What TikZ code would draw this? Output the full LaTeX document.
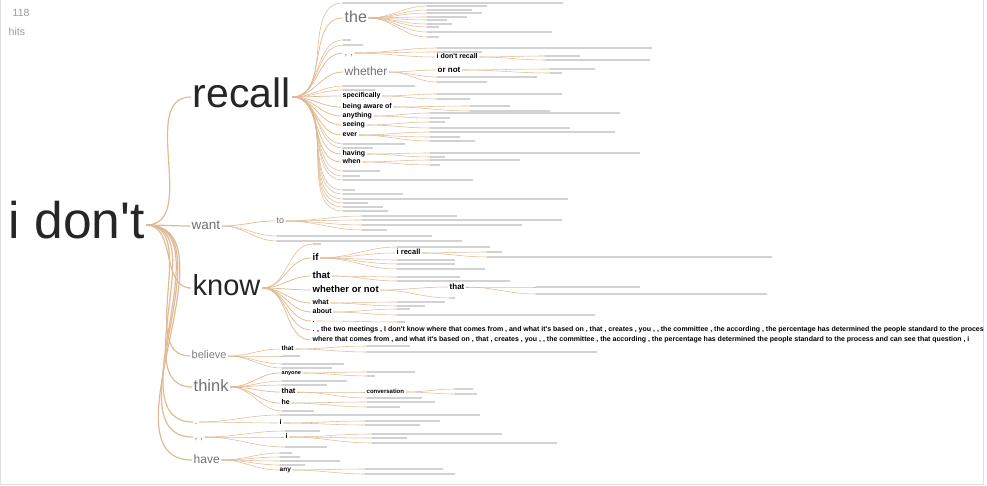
\documentclass[tikz,border=0pt]{standalone}
\usepackage{fontspec}
\setmainfont{Liberation Sans}[Ligatures=TeXOff]
\usepackage{xcolor}
\usepackage{tikz}

\definecolor{twigcol}{RGB}{224,186,148}
\definecolor{inkdark}{RGB}{38,38,38}
\definecolor{inkgrey}{RGB}{112,112,112}
\definecolor{gistcol}{RGB}{210,210,210}
\newcommand{\fsz}[1]{\fontsize{#1}{#1}\selectfont}

\tikzset{
  twig/.style={draw=twigcol, line width=0.55pt},
  stem/.style={draw=twigcol, line width=1.2pt},
  word/.style={anchor=west, inner sep=1.5pt, text=inkdark, font=\fsz{#1},
               text height={0.52*#1}, text depth=0pt},
  faint/.style={word=#1, text=inkgrey},
  tag/.style={word=#1, text=black, font=\bfseries\fsz{#1}},
  tag/.default=7,
  gist/.style={anchor=west, fill=gistcol, inner sep=0pt, minimum height=1.7pt, minimum width=#1},
}

\begin{document}
\begin{tikzpicture}[x=1pt,y=-1pt]
    \useasboundingbox (0,0) rectangle (987,486);
    \draw[gistcol!70, line width=0.8pt] (0.5,0) -- (0.5,484) -- (983.5,484) -- (983.5,0);

    % hit count
    \node[faint=10.5, text=black!40] (count) at (11,14) {118};
    \node[faint=10.5, text=black!40] (hits) at (7,33) {hits};

    % root and first level
    \node[word=51.5] (idont) at (7,225) {i don't};

    \node[word=41] (recall) at (191,97) {recall};
    \node[faint=13.5] (want) at (190,226) {want};
    \node[word=29] (know) at (191,288) {know};
    \node[faint=11, text=black!50] (believe) at (190,356) {believe};
    \node[faint=16.5] (think) at (192,387) {think};
    \node[faint=10] (dot) at (193,422) {.};
    \node[faint=10] (commas) at (193,437) {,\ ,};
    \node[faint=12] (have) at (192,460) {have};

    \foreach \c in {recall,want,know,believe,think,dot,commas,have}
        \draw[stem] (idont.east) to[out=0,in=180] (\c.west);

    % --- recall ---
    \node[faint=16] (the) at (343,18) {the};
    \node[faint=10] (rcommas) at (343,53) {,\ ,};
    \node[faint=12] (whether) at (343,72) {whether};
    \node[tag] (specif) at (341,96) {specifically};
    \node[tag] (aware) at (341,107) {being aware of};
    \node[tag] (anything) at (341,116) {anything};
    \node[tag] (seeing) at (341,125) {seeing};
    \node[tag] (ever) at (341,135) {ever};
    \node[tag] (having) at (341,154) {having};
    \node[tag] (when) at (341,162) {when};

    \foreach \c in {the,rcommas,whether,specif,aware,anything,seeing,ever,having,when}
        \draw[twig, line width=0.75pt] (recall.east) to[out=0,in=180] (\c.west);
    \foreach \y/\l [count=\i] in {3/220, 40/8, 45/20, 86/72, 90/32, 144/62, 148/30, 171/37,
            176/17, 180/130, 190/12, 194/60, 199/225, 203/25, 207/40, 211/45} {
        \node[gist=\l] (rg\i) at (343,\y) {};
        \draw[twig] (recall.east) to[out=0,in=180] (rg\i.west);
    }

    \foreach \y/\l [count=\i] in {6/60, 10/45, 13/55, 17/40, 20/20, 24/25, 27/12, 32/125, 37/12} {
        \node[gist=\l] (theg\i) at (427,\y) {};
        \draw[twig] (the.east) to[out=0,in=180] (theg\i.west);
    }

    \node[tag] (idr) at (435,57) {i don't recall};
    \draw[twig] (rcommas.east) to[out=0,in=180] (idr.west);
    \foreach \y/\l [count=\i] in {48/215, 52/45} {
        \node[gist=\l] (rcg\i) at (437,\y) {};
        \draw[twig] (rcommas.east) to[out=0,in=180] (rcg\i.west);
    }
    \foreach \y/\l [count=\i] in {56/35, 60/105} {
        \node[gist=\l] (idrg\i) at (545,\y) {};
        \draw[twig] (idr.east) to[out=0,in=180] (idrg\i.west);
    }

    \node[tag=8] (ornot) at (436,70) {or not};
    \draw[twig] (whether.east) to[out=0,in=180] (ornot.west);
    \foreach \y/\l [count=\i] in {77/100, 82/50} {
        \node[gist=\l] (wg\i) at (437,\y) {};
        \draw[twig] (whether.east) to[out=0,in=180] (wg\i.west);
    }
    \foreach \y/\l [count=\i] in {69/45, 73/12} {
        \node[gist=\l] (ong\i) at (550,\y) {};
        \draw[twig] (ornot.east) to[out=0,in=180] (ong\i.west);
    }

    \foreach \p/\x/\lst in {specif/437/{94/125,99/33}, aware/470/{106/40,111/80},
            anything/430/{113/190,118/20}, seeing/430/{122/15,128/140},
            ever/430/{132/185,137/30,141/45}, having/430/{153/210,157/15},
            when/430/{160/90,165/10}} {
        \foreach \y/\l [count=\i] in \lst {
            \node[gist=\l] (\p g\i) at (\x,\y) {};
            \draw[twig] (\p.east) to[out=0,in=180] (\p g\i.west);
        }
    }

    % --- want ---
    \node[faint=9] (to) at (275,221) {to};
    \draw[twig, line width=0.75pt] (want.east) to[out=0,in=180] (to.west);
    \foreach \y/\l [count=\i] in {236/155, 241/185} {
        \node[gist=\l] (wantg\i) at (277,\y) {};
        \draw[twig] (want.east) to[out=0,in=180] (wantg\i.west);
    }
    \foreach \y/\l [count=\i] in {216/95, 220/200, 225/160, 230/25} {
        \node[gist=\l] (tog\i) at (362,\y) {};
        \draw[twig] (to.east) to[out=0,in=180] (tog\i.west);
    }

    % --- know ---
    \node[tag=9.5] (if) at (311,258) {if};
    \node[tag=9.5] (kthat) at (311,276) {that};
    \node[tag=9.5] (wornot) at (311,290) {whether or not};
    \node[tag] (what) at (311,303) {what};
    \node[tag] (about) at (311,312) {about};
    \node[tag] (kdot) at (311,321) {.};
    \begin{scope}
        \clip (0,0) rectangle (983,486);
        \node[tag] (long1) at (311,330) {. , the two meetings , I don't know where that comes from , and what it's based on , that , creates , you , , the committee , the according , the percentage has determined the people standard to the process};
        \node[tag] (long2) at (311,340) {where that comes from , and what it's based on , that , creates , you , , the committee , the according , the percentage has determined the people standard to the process and can see that question , i};
    \end{scope}
    \foreach \c in {if,kthat,wornot,what,about,kdot,long1,long2}
        \draw[twig, line width=0.75pt] (know.east) to[out=0,in=180] (\c.west);
    \node[gist=8] (kg1) at (313,244) {};
    \draw[twig] (know.east) to[out=0,in=180] (kg1.west);

    \node[tag=7.5] (irecall) at (395,253) {i recall};
    \draw[twig] (if.east) to[out=0,in=180] (irecall.west);
    \foreach \y/\l [count=\i] in {247/93, 260/58, 264/58, 269/88} {
        \node[gist=\l] (ifg\i) at (397,\y) {};
        \draw[twig] (if.east) to[out=0,in=180] (ifg\i.west);
    }
    \foreach \y/\l [count=\i] in {252/15, 257/285} {
        \node[gist=\l] (irg\i) at (487,\y) {};
        \draw[twig] (irecall.east) to[out=0,in=180] (irg\i.west);
    }

    \node[tag=8] (wthat) at (448,287) {that};
    \draw[twig] (wornot.east) to[out=0,in=180] (wthat.west);
    \node[gist=5] (wog1) at (450,298) {};
    \draw[twig] (wornot.east) to[out=0,in=180] (wog1.west);
    \foreach \y/\l [count=\i] in {287/104, 294/231} {
        \node[gist=\l] (wtg\i) at (536,\y) {};
        \draw[twig] (wthat.east) to[out=0,in=180] (wtg\i.west);
    }

    \foreach \p/\lst in {kthat/{277/63,281/113}, what/{302/48,306/28},
            about/{309/13,315/198}, kdot/{322/8}} {
        \foreach \y/\l [count=\i] in \lst {
            \node[gist=\l] (\p g\i) at (397,\y) {};
            \draw[twig] (\p.east) to[out=0,in=180] (\p g\i.west);
        }
    }

    % --- believe ---
    \node[tag=6.5] (bthat) at (280,349) {that};
    \draw[twig] (believe.east) to[out=0,in=180] (bthat.west);
    \foreach \y/\l [count=\i] in {356/18, 364/62, 368/50} {
        \node[gist=\l] (bg\i) at (282,\y) {};
        \draw[twig] (believe.east) to[out=0,in=180] (bg\i.west);
    }
    \foreach \y/\l [count=\i] in {346/43, 352/230} {
        \node[gist=\l] (btg\i) at (367,\y) {};
        \draw[twig] (bthat.east) to[out=0,in=180] (btg\i.west);
    }

    % --- think ---
    \node[tag=5.5] (anyone) at (280,373) {anyone};
    \node[tag=7.5] (tthat) at (280,392) {that};
    \node[tag] (he) at (280,403) {he};
    \foreach \c in {anyone,tthat,he}
        \draw[twig, line width=0.75pt] (think.east) to[out=0,in=180] (\c.west);
    \foreach \y/\l [count=\i] in {381/65, 385/45, 411/32} {
        \node[gist=\l] (tg\i) at (282,\y) {};
        \draw[twig] (think.east) to[out=0,in=180] (tg\i.west);
    }
    \node[tag=6] (convo) at (365,392) {conversation};
    \draw[twig] (tthat.east) to[out=0,in=180] (convo.west);
    \node[gist=55] (ttg1) at (367,398) {};
    \draw[twig] (tthat.east) to[out=0,in=180] (ttg1.west);
    \foreach \p/\x/\lst in {anyone/367/{372/48,376/8}, convo/455/{389/18,394/22},
            he/367/{402/68,407/33}} {
        \foreach \y/\l [count=\i] in \lst {
            \node[gist=\l] (\p g\i) at (\x,\y) {};
            \draw[twig] (\p.east) to[out=0,in=180] (\p g\i.west);
        }
    }

    % --- . and , , ---
    \node[gist=200] (dg1) at (280,415) {};
    \draw[twig] (dot.east) to[out=0,in=180] (dg1.west);
    \node[tag] (di) at (278,423) {i};
    \draw[twig] (dot.east) to[out=0,in=180] (di.west);
    \foreach \y/\l [count=\i] in {421/75, 425/55} {
        \node[gist=\l] (dig\i) at (365,\y) {};
        \draw[twig] (di.east) to[out=0,in=180] (dig\i.west);
    }

    \node[tag] (ci) at (284,437) {i};
    \draw[twig] (commas.east) to[out=0,in=180] (ci.west);
    \foreach \y/\l [count=\i] in {431/35, 447/42} {
        \node[gist=\l] (cg\i) at (285,\y) {};
        \draw[twig] (commas.east) to[out=0,in=180] (cg\i.west);
    }
    \foreach \y/\l [count=\i] in {434/130, 438/35, 443/185} {
        \node[gist=\l] (cig\i) at (372,\y) {};
        \draw[twig] (ci.east) to[out=0,in=180] (cig\i.west);
    }

    % --- have ---
    \node[tag=6.5] (hany) at (278,470) {any};
    \draw[twig] (have.east) to[out=0,in=180] (hany.west);
    \foreach \y/\l [count=\i] in {453/12, 457/20, 461/60, 465/25} {
        \node[gist=\l] (hg\i) at (280,\y) {};
        \draw[twig] (have.east) to[out=0,in=180] (hg\i.west);
    }
    \foreach \y/\l [count=\i] in {469/78, 474/90} {
        \node[gist=\l] (hag\i) at (365,\y) {};
        \draw[twig] (hany.east) to[out=0,in=180] (hag\i.west);
    }
\end{tikzpicture}
\end{document}
